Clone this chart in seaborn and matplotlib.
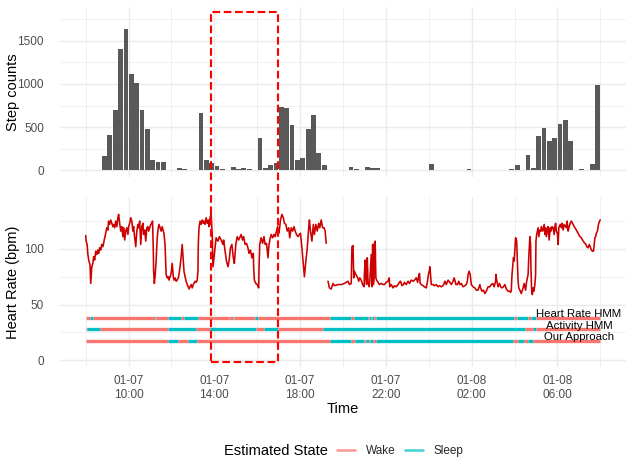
import numpy as np
import pandas as pd
import matplotlib
matplotlib.use("Agg")
import matplotlib.pyplot as plt
import matplotlib.dates as mdates
from matplotlib.lines import Line2D
from matplotlib.patches import Rectangle
import seaborn as sns

# ---------------- data ----------------
start = pd.Timestamp("2021-01-07 08:00")
end_minute = 1440

# step counts in 15-minute bins, first bin starts 08:45
step_first_bin_min = 45
step_counts = [170, 412, 694, 1407, 1634, 1110, 1010, 702, 482, 120,
               100, 93, 8, 0, 31, 15, 0, 0, 663, 116,
               81, 46, 19, 0, 42, 19, 27, 15, 0, 378,
               23, 58, 89, 732, 717, 528, 120, 146, 478, 636,
               204, 62, 0, 0, 0, 0, 42, 12, 0, 39,
               23, 27, 0, 0, 8, 0, 4, 0, 0, 4,
               0, 69, 8, 0, 0, 0, 4, 0, 19, 0,
               0, 0, 0, 0, 4, 0, 19, 62, 0, 177,
               23, 397, 490, 339, 378, 532, 582, 339, 8, 19,
               0, 69, 983]

# heart rate, daytime segment (minutes after 08:00, bpm)
hr_day_min = [0, 1, 4, 6, 9, 12, 14, 17, 20, 22,
              25, 28, 31, 34, 36, 39, 42, 45, 48, 50,
              53, 56, 59, 62, 64, 67, 70, 73, 76, 78,
              81, 84, 87, 90, 92, 95, 98, 101, 104, 106,
              109, 112, 115, 118, 120, 123, 126, 129, 132, 134,
              137, 140, 143, 146, 148, 151, 154, 157, 160, 162,
              165, 168, 171, 174, 176, 179, 182, 185, 187, 189,
              190, 192, 194, 197, 200, 203, 205, 208, 211, 214,
              217, 219, 222, 225, 228, 231, 233, 236, 239, 242,
              245, 247, 250, 253, 256, 259, 261, 264, 267, 270,
              273, 275, 278, 281, 284, 287, 289, 292, 295, 298,
              301, 303, 306, 309, 312, 314, 315, 317, 320, 323,
              326, 329, 331, 334, 337, 340, 343, 345, 348,
              351, 354, 356, 360, 365, 370, 374, 379, 384, 386,
              390, 394, 398, 401, 405, 409, 413, 416, 420, 424,
              428, 431, 435, 439, 442, 446, 450, 454, 457, 461,
              465, 469, 470, 472, 476, 480, 484, 485, 487, 491,
              495, 499, 502, 506, 510, 512, 515, 519, 523, 527,
              530, 534, 537, 540, 542, 545, 549, 553, 556, 560,
              564, 568, 571, 575, 579, 583, 586, 590, 594, 598,
              601, 605, 609, 612, 616, 620, 624, 626, 629, 633,
              637, 640, 644, 648, 652, 655, 659, 663, 667, 670,
              673]
hr_day_bpm = [112, 107, 104, 95, 89, 86, 69, 84, 87, 93,
              90, 98, 95, 99, 96, 101, 99, 104, 102, 105,
              110, 114, 119, 117, 125, 122, 126, 123, 120, 122,
              119, 125, 120, 128, 131, 123, 116, 120, 111, 119,
              108, 116, 119, 113, 120, 123, 128, 125, 116, 120,
              110, 102, 116, 122, 119, 125, 104, 120, 123, 113,
              117, 107, 119, 120, 116, 119, 122, 123, 125, 101,
              80, 69, 75, 89, 110, 119, 122, 119, 116, 120,
              116, 114, 104, 77, 74, 75, 72, 75, 78, 87,
              75, 72, 74, 71, 72, 74, 77, 84, 93, 104,
              89, 80, 75, 71, 68, 66, 64, 66, 68, 65,
              68, 69, 71, 70, 72, 80, 104, 119, 125, 122,
              126, 123, 125, 122, 128, 123, 126, 120, 128,
              131, 113, 84, 95, 110, 107, 111, 108, 104, 108,
              98, 89, 84, 89, 101, 104, 92, 87, 104, 111,
              108, 110, 113, 108, 111, 104, 105, 101, 96, 99,
              92, 96, 83, 72, 69, 68, 65, 83, 104, 110,
              105, 111, 104, 105, 92, 101, 108, 113, 110, 113,
              111, 116, 120, 114, 117, 126, 131, 128, 123, 122,
              116, 119, 110, 119, 116, 120, 116, 113, 111, 113,
              114, 101, 86, 75, 89, 101, 119, 126, 116, 107,
              122, 113, 122, 116, 123, 119, 126, 119, 119, 116,
              105]

# heart rate, night segment (after the data gap)
hr_night_min = [678, 682, 687, 692, 696, 706,
                715, 724, 734, 738, 743, 745, 748, 750, 752, 756,
                760, 764, 767, 771, 775, 779, 780, 782, 784, 786,
                788, 790, 793, 795, 797, 799, 801, 803, 805, 807,
                808, 810, 812, 814, 818, 822, 827, 832, 836, 841,
                846, 849, 851, 855, 860, 864, 869, 874, 878, 881,
                885, 889, 892, 897, 902, 906, 911, 916, 920, 925,
                929, 932, 934, 936, 939, 944, 948, 953, 956, 959,
                962, 963, 965, 967, 972, 976, 981, 986, 990, 995,
                1000, 1003, 1005, 1009, 1014, 1019, 1023, 1028, 1031, 1033,
                1036, 1040, 1044, 1047, 1051, 1056, 1061, 1065, 1068, 1070,
                1073, 1076, 1078,
                1079, 1084, 1089, 1093, 1098, 1103, 1105, 1109, 1113, 1117,
                1121, 1126, 1131, 1135, 1139, 1143, 1147, 1148, 1150, 1154,
                1158, 1161, 1165, 1169, 1173, 1177, 1182, 1187, 1189, 1191,
                1193, 1195, 1197, 1199, 1201, 1203, 1206, 1208, 1210, 1212,
                1216, 1219, 1224, 1227, 1231, 1234, 1238, 1240, 1243, 1245,
                1246, 1248, 1250, 1252, 1254, 1257, 1259, 1260, 1262, 1264,
                1266, 1268, 1271, 1274, 1275, 1279, 1283, 1285, 1287, 1289,
                1292, 1294, 1297, 1300, 1302, 1305, 1308, 1311, 1313, 1315,
                1317, 1320, 1322, 1324, 1328, 1331, 1333, 1336, 1339, 1343,
                1345, 1347, 1350, 1353, 1356, 1359, 1364, 1369, 1373, 1378,
                1383, 1387, 1392, 1397, 1400, 1402, 1406, 1409, 1412, 1415,
                1418, 1421, 1423, 1425, 1427, 1429, 1432, 1435, 1438, 1440]
hr_night_bpm = [71, 65, 64, 69, 67, 68,
                68, 69, 71, 68, 69, 102, 103, 74, 80, 77,
                75, 71, 74, 72, 68, 66, 78, 90, 74, 68,
                92, 71, 66, 71, 84, 95, 66, 104, 68, 74,
                105, 107, 74, 72, 70, 68, 69, 68, 68, 70,
                71, 74, 66, 68, 65, 67, 66, 68, 70, 71,
                67, 68, 70, 68, 71, 69, 72, 71, 72, 74,
                70, 76, 78, 69, 68, 67, 66, 65, 70, 77,
                81, 84, 77, 68, 68, 67, 68, 66, 67, 66,
                67, 69, 71, 68, 72, 70, 68, 71, 74, 72,
                68, 68, 71, 68, 69, 66, 67, 68, 71, 77,
                80, 77, 71,
                68, 66, 65, 63, 63, 68, 65, 62, 63, 60,
                62, 66, 66, 68, 69, 66, 71, 77, 72, 66,
                69, 66, 65, 66, 68, 64, 62, 62, 61, 63,
                77, 84, 92, 89, 99, 110, 107, 89, 71, 65,
                62, 60, 65, 69, 63, 71, 77, 93, 111, 104,
                83, 62, 59, 65, 62, 68, 77, 107, 113, 116,
                119, 111, 117, 116, 120, 116, 122, 113, 119, 111,
                117, 120, 108, 119, 116, 120, 119, 113, 120, 123,
                116, 114, 104, 119, 122, 119, 123, 117, 122, 120,
                119, 125, 116, 120, 123, 125, 122, 119, 117, 114,
                111, 110, 107, 105, 104, 102, 101, 104, 102, 99,
                98, 98, 104, 110, 111, 114, 116, 122, 125, 126]

# estimated state tracks: minutes after 08:00 where the state flips
# (each track starts as Wake and alternates Wake/Sleep)
track_names = ["Heart Rate HMM", "Activity HMM", "Our Approach"]
track_levels = [38.2, 27.8, 17.6]
hr_hmm_flips = [13, 20, 194, 198, 231, 267, 276, 315, 358, 360, 400, 402,
                412, 414, 474, 482, 685, 743, 751, 789, 792, 799, 801, 808,
                812, 1199, 1206, 1238, 1246, 1259]
act_hmm_flips = [4, 41, 230, 309, 347, 477, 500, 538, 664, 1229, 1252, 1259]
ours_flips = [231, 259, 286, 312, 685, 742, 753, 780, 784, 792, 795, 805,
              812, 1196, 1210, 1227, 1238, 1252]
track_flips = [hr_hmm_flips, act_hmm_flips, ours_flips]
state_names = ["Wake", "Sleep"]
state_colors = {"Wake": "#F8766D", "Sleep": "#00BFC4"}
label_minute = 1380  # 07:00 next morning

# highlighted window
highlight_start_min = 350
highlight_end_min = 538
highlight_top_steps = 1836
highlight_bottom_bpm = -1.3

# ---------------- style ----------------
sns.set_theme(style="white")
plt.rcParams['font.family'] = ['Liberation Sans', 'DejaVu Sans']

DPI = 96
W, H = 634, 476
fig = plt.figure(figsize=(W / DPI, H / DPI), dpi=DPI)
fig.patch.set_facecolor("white")


def ax_rect(l, t, r, b):
    return [l / W, 1 - b / H, (r - l) / W, (b - t) / H]


ax1 = fig.add_axes(ax_rect(60, 7, 626, 177))
ax2 = fig.add_axes(ax_rect(60, 197, 626, 367), sharex=ax1)


def to_time(minutes):
    return start + pd.to_timedelta(np.asarray(minutes, dtype=float), unit="min")


# ---------------- top: step counts ----------------
step_centers = to_time(step_first_bin_min + 15 * np.arange(len(step_counts)) + 7.5)
ax1.bar(mdates.date2num(step_centers.to_pydatetime()), step_counts,
        width=13.5 / 1440, color="#595959", edgecolor="none", zorder=2)

# ---------------- bottom: heart rate ----------------
hr_df = pd.concat([
    pd.DataFrame({"time": to_time(hr_day_min), "bpm": hr_day_bpm, "seg": "day"}),
    pd.DataFrame({"time": to_time(hr_night_min), "bpm": hr_night_bpm, "seg": "night"}),
], ignore_index=True)
sns.lineplot(data=hr_df, x="time", y="bpm", units="seg", estimator=None,
             color="#CC0000", linewidth=1.2, ax=ax2, zorder=3, legend=False)

for name, level, flips in zip(track_names, track_levels, track_flips):
    edges = [0] + list(flips) + [end_minute]
    for i in range(len(edges) - 1):
        st = state_names[i % 2]
        x0, x1 = mdates.date2num(to_time([edges[i], edges[i + 1]]).to_pydatetime())
        lc = ax2.hlines(level, x0, x1, color=state_colors[st], linewidth=2.5, zorder=3)
        lc.set_capstyle("butt")
    ax2.text(mdates.date2num(to_time([label_minute]).to_pydatetime())[0], level + 3.4,
             name, ha="center", va="center", fontsize=8.5, color="black", zorder=4)

# ---------------- axes formatting ----------------
span = pd.Timedelta(minutes=end_minute)
xmin = start - 0.05 * span
xmax = start + span + 0.05 * span
ax2.set_xlim(mdates.date2num(xmin.to_pydatetime()), mdates.date2num(xmax.to_pydatetime()))

ax1.set_ylim(-77.5, 1890)
ax1.set_yticks([0, 500, 1000, 1500])
ax1.set_yticks([250, 750, 1250, 1750], minor=True)
ax2.set_ylim(-6, 146.6)
ax2.set_yticks([0, 50, 100])
ax2.set_yticks([25, 75, 125], minor=True)

ax2.xaxis.set_major_locator(mdates.HourLocator(byhour=[2, 6, 10, 14, 18, 22]))
ax2.xaxis.set_minor_locator(mdates.HourLocator(byhour=[0, 4, 8, 12, 16, 20]))
ax2.xaxis.set_major_formatter(mdates.DateFormatter("%m-%d\n%H:%M"))

for ax in (ax1, ax2):
    ax.set_facecolor("white")
    ax.grid(True, which="major", color="#EBEBEB", linewidth=1.07)
    ax.grid(True, which="minor", color="#EBEBEB", linewidth=0.53)
    ax.set_axisbelow(True)
    ax.tick_params(which="both", length=0, labelsize=8.8, labelcolor="#4D4D4D")
    ax.tick_params(axis="y", pad=12)
    ax.tick_params(axis="x", pad=6)
    for s in ax.spines.values():
        s.set_visible(False)
ax1.tick_params(axis="x", labelbottom=False)
ax1.set_xlabel("")

ax1.set_ylabel("Step counts", fontsize=11, color="black")
ax2.set_ylabel("Heart Rate (bpm)", fontsize=11, color="black")
for ax in (ax1, ax2):
    ax.yaxis.set_label_coords((13 - 60) / 566, 0.5)
    ax.yaxis.label.set_verticalalignment("center")
ax2.set_xlabel("Time", fontsize=11, color="black")
ax2.xaxis.set_label_coords(0.5, -(409 - 367) / 170)
ax2.xaxis.label.set_verticalalignment("center")

# ---------------- legend ----------------
fig.text(224 / W, 1 - 451 / H, "Estimated State", fontsize=11, ha="left",
         va="center", color="black")
handles = [Line2D([], [], color=state_colors[s], lw=2, alpha=0.7) for s in state_names]
fig.legend(handles, state_names, loc="center left",
           bbox_to_anchor=(337 / W, 1 - 451 / H), ncol=2, frameon=False,
           fontsize=8.8, handlelength=1.53, handletextpad=0.94,
           columnspacing=0.77, borderpad=0, borderaxespad=0)

# ---------------- highlight rectangle across both panels ----------------
hx0, hx1 = mdates.date2num(to_time([highlight_start_min, highlight_end_min]).to_pydatetime())
p_top = ax1.transData.transform((hx0, highlight_top_steps))
p_bot = ax2.transData.transform((hx1, highlight_bottom_bpm))
inv = fig.transFigure.inverted()
fx0, fy1 = inv.transform(p_top)
fx1, fy0 = inv.transform(p_bot)
rect = Rectangle((fx0, fy0), fx1 - fx0, fy1 - fy0, transform=fig.transFigure,
                 fill=False, edgecolor="#FF0000", linewidth=1.6,
                 linestyle=(0, (3.6, 1.7)), joinstyle="round", zorder=10)
fig.add_artist(rect)

fig.savefig("out.png", dpi=DPI)
